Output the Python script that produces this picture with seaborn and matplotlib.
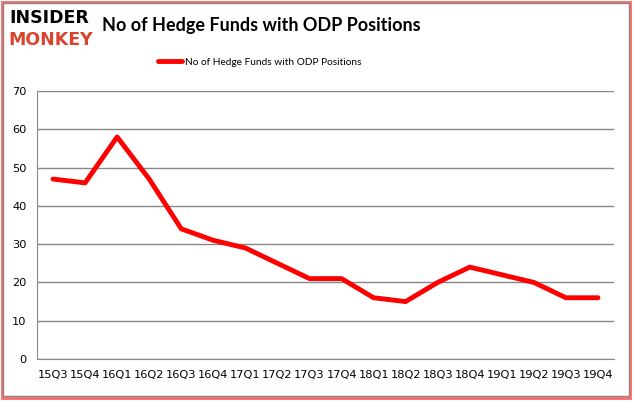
import matplotlib
matplotlib.use("Agg")
import matplotlib.pyplot as plt
import seaborn as sb
import pandas as pd
from matplotlib.patches import Rectangle

# quarterly hedge fund counts
quarters = ['15Q3', '15Q4', '16Q1', '16Q2', '16Q3', '16Q4', '17Q1', '17Q2', '17Q3',
            '17Q4', '18Q1', '18Q2', '18Q3', '18Q4', '19Q1', '19Q2', '19Q3', '19Q4']
funds = [47, 46, 58, 47, 34, 31, 29, 25, 21, 21, 16, 15, 20, 24, 22, 20, 16, 16]
series_name = 'No of Hedge Funds with ODP Positions'

df = pd.DataFrame({'quarter': quarters, 'funds': funds, 'pos': range(len(quarters))})

sb.set_style('white')
plt.rcParams['font.family'] = ['DejaVu Sans']
plt.rcParams['text.color'] = 'black'

fig = plt.figure(figsize=(6.34, 4.04), dpi=100)
ax = fig.add_axes([37/634, 1-359/404, (614-37)/634, (359-91)/404])

sb.lineplot(data=df, x='pos', y='funds', color='#ff0000', linewidth=3.5,
            label=series_name, ax=ax, legend=False)

ax.set_xlim(-0.5, len(quarters)-0.5)
ax.set_ylim(0, 70)
ax.set_yticks(range(0, 71, 10))
ax.set_xticks([i for i in range(len(quarters))])
ax.set_xticklabels(quarters)
ax.set_xticks([i-0.5 for i in range(len(quarters)+1)], minor=True)
ax.tick_params(axis='x', which='major', length=0, labelsize=8.2, pad=8, labelcolor='black')
ax.tick_params(axis='x', which='minor', length=4, color='#888888', direction='out')
ax.tick_params(axis='y', length=4, color='#888888', labelsize=8.2, direction='out',
               labelcolor='black')
ax.yaxis.grid(True, color='#888888', linewidth=1)
ax.set_axisbelow(True)
ax.set_xlabel('')
ax.set_ylabel('')
for s in ['top', 'right']:
    ax.spines[s].set_visible(False)
for s in ['left', 'bottom']:
    ax.spines[s].set_color('#888888')

# title and legend
fig.text(261/634, 1-25/404, 'No of Hedge Funds with ODP Positions', ha='center', va='center',
         fontsize=13, fontweight='bold', family='Lato', color='black')
ax.legend(loc='center', bbox_to_anchor=((260-37)/577, 1+(91-62)/268), frameon=False,
          handlelength=2.4, handletextpad=0.3,
          prop={'family': 'Lato', 'size': 7.3})

# logo
fig.text(9/634, 1-18/404, 'INSIDER', ha='left', va='center', fontsize=12.5,
         fontweight='heavy', color='black')
fig.text(8/634, 1-40/404, 'MONKEY', ha='left', va='center', fontsize=12.5,
         fontweight='heavy', color='#d9442e')

# frame
fig.patches.append(Rectangle((2/634, 6/404), 628/634, 396/404, transform=fig.transFigure,
                             fill=False, edgecolor='#ff6666', linewidth=2))
fig.patches.append(Rectangle((3/634, 8/404), 626/634, 393/404, transform=fig.transFigure,
                             fill=False, edgecolor='#888888', linewidth=1))

fig.savefig('out.png', dpi=100)
